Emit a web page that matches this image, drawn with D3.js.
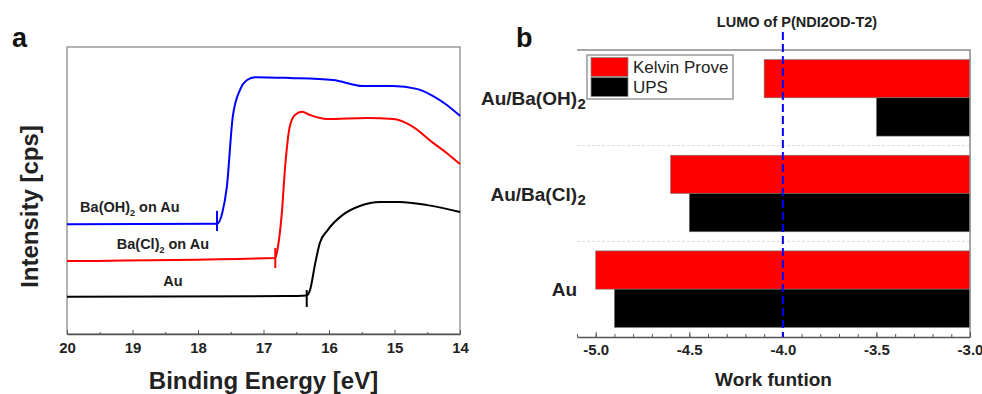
<!DOCTYPE html>
<html lang="en">
<head>
    <meta charset="UTF-8">
    <title>UPS cutoff and work function</title>
    <script src="https://d3js.org/d3.v7.min.js"></script>
    <style>
        body {
            background-color: #ffffff;
            margin: 0;
            padding: 0;
            font-family: Arial, "Liberation Sans", sans-serif;
        }
        svg text {
            font-family: Arial, "Liberation Sans", sans-serif;
        }
    </style>
</head>
<body>
    <svg id="chart"></svg>

    <script>
        // panel a: secondary electron cutoff spectra (binding energy, intensity a.u.)
        const ohEnergy    = [20, 17.71, 17.63, 17.56, 17.47, 17.36, 17.25, 17.13, 16.6, 15.94, 15.48, 15.02, 14.66, 14.41, 14.2, 14.0];
        const ohIntensity = [38.2, 38.4, 42.2, 51.2, 75.6, 85.0, 88.5, 89.5, 89.2, 88.5, 86.4, 86.4, 85.4, 82.9, 79.8, 76.0];

        const clEnergy    = [20, 16.82, 16.78, 16.72, 16.67, 16.60, 16.52, 16.41, 16.29, 16.03, 15.42, 15.02, 14.76, 14.41, 14.2, 14.0];
        const clIntensity = [25.4, 26.5, 30.3, 42.2, 58.2, 72.1, 76.3, 77.4, 76.3, 74.9, 75.3, 74.9, 72.8, 66.6, 63.0, 59.2];

        const auEnergy    = [20, 16.64, 16.34, 16.29, 16.21, 16.14, 16.02, 15.79, 15.53, 15.22, 14.92, 14.5, 14.0];
        const auIntensity = [13.0, 13.2, 13.4, 15.3, 24.7, 31.7, 36.2, 41.5, 44.6, 46.0, 46.0, 44.9, 42.5];

        const onsetEnergy = [17.71, 16.82, 16.34];
        const onsetLow    = [35.9, 23.0, 9.4];
        const onsetHigh   = [42.9, 30.0, 15.3];

        const energyTicks = [20, 19, 18, 17, 16, 15, 14];

        // panel b: work function bars
        const categories = ["Au/Ba(OH)", "Au/Ba(Cl)", "Au"];
        const categorySub = ["2", "2", ""];
        const seriesNames = ["Kelvin Prove", "UPS"];
        const kelvinValues = [-4.1, -4.6, -5.0];
        const upsValues = [-3.5, -4.5, -4.9];
        const lumoLevel = -4.0;
        const workTicks = [-5.0, -4.5, -4.0, -3.5, -3.0];

        const width = 982;
        const height = 394;

        const svg = d3.select("#chart")
            .attr("width", width)
            .attr("height", height);

        // ---------- panel a ----------
        const ax = { left: 67, right: 460, top: 47, bottom: 334 };

        const xE = d3.scaleLinear().domain([20, 14]).range([ax.left, ax.right]);
        const yI = d3.scaleLinear().domain([0, 100]).range([ax.bottom, ax.top]);

        svg.append("rect")
            .attr("x", ax.left)
            .attr("y", ax.top)
            .attr("width", ax.right - ax.left)
            .attr("height", ax.bottom - ax.top)
            .attr("fill", "none")
            .attr("stroke", "#9a9a9a")
            .attr("stroke-width", 1.5);

        const minorE = d3.range(19.5, 14, -1);
        svg.append("g")
            .attr("transform", `translate(0,${ax.bottom})`)
            .call(d3.axisBottom(xE).tickValues(minorE).tickSize(-2).tickFormat(""))
            .call(g => g.select(".domain").remove())
            .call(g => g.selectAll("line").attr("stroke", "#555"));

        svg.append("g")
            .attr("transform", `translate(0,${ax.bottom})`)
            .call(d3.axisBottom(xE).tickValues(energyTicks).tickSize(-4).tickSizeOuter(0).tickPadding(8).tickFormat(d3.format("d")))
            .call(g => g.select(".domain").attr("stroke", "#555").attr("stroke-width", 1.5))
            .call(g => g.selectAll("line").attr("stroke", "#555"))
            .call(g => g.selectAll("text")
                .attr("fill", "#222")
                .attr("font-size", "15px")
                .attr("font-weight", "bold"));

        const spectra = [
            { e: ohEnergy, i: ohIntensity, color: "#0000ff" },
            { e: clEnergy, i: clIntensity, color: "#ff0000" },
            { e: auEnergy, i: auIntensity, color: "#000000" }
        ];

        const line = d3.line()
            .x(d => xE(d[0]))
            .y(d => yI(d[1]))
            .curve(d3.curveMonotoneX);

        spectra.forEach((s, k) => {
            svg.append("path")
                .datum(d3.zip(s.e, s.i))
                .attr("fill", "none")
                .attr("stroke", s.color)
                .attr("stroke-width", 2)
                .attr("d", line);

            svg.append("line")
                .attr("x1", xE(onsetEnergy[k]))
                .attr("x2", xE(onsetEnergy[k]))
                .attr("y1", yI(onsetLow[k]))
                .attr("y2", yI(onsetHigh[k]))
                .attr("stroke", s.color)
                .attr("stroke-width", 2);
        });

        // spectrum labels
        const specLabels = [
            { main: "Ba(OH)", sub: "2", tail: " on Au", e: 19.80, i: 42.5 },
            { main: "Ba(Cl)", sub: "2", tail: " on Au", e: 19.24, i: 29.6 },
            { main: "Au", sub: "", tail: "", e: 18.53, i: 16.7 }
        ];
        specLabels.forEach(l => {
            const t = svg.append("text")
                .attr("x", xE(l.e))
                .attr("y", yI(l.i))
                .attr("font-size", "14.5px")
                .attr("font-weight", "bold")
                .attr("fill", "#222");
            t.append("tspan").text(l.main);
            if (l.sub) {
                t.append("tspan").attr("font-size", "9px").attr("dy", 4).text(l.sub);
                t.append("tspan").attr("dy", -4).text(l.tail);
            }
        });

        svg.append("text")
            .attr("x", (ax.left + ax.right) / 2)
            .attr("y", 389)
            .attr("text-anchor", "middle")
            .attr("font-size", "24px")
            .attr("font-weight", "bold")
            .attr("fill", "#222")
            .text("Binding Energy [eV]");

        svg.append("text")
            .attr("transform", `translate(38,${(ax.top + ax.bottom) / 2 + 16}) rotate(-90)`)
            .attr("text-anchor", "middle")
            .attr("font-size", "24px")
            .attr("font-weight", "bold")
            .attr("fill", "#222")
            .text("Intensity [cps]");

        svg.append("text")
            .attr("x", 12)
            .attr("y", 47)
            .attr("font-size", "27px")
            .attr("font-weight", "bold")
            .attr("fill", "#111")
            .text("a");

        // ---------- panel b ----------
        const bx = { left: 577, right: 970, top: 50, bottom: 337 };

        const xW = d3.scaleLinear().domain([-5.1, -3.0]).range([bx.left, bx.right]);
        const yC = d3.scaleBand()
            .domain(categories)
            .range([bx.top, bx.bottom])
            .paddingInner(0.2)
            .paddingOuter(0.1);
        const ySeries = d3.scaleBand()
            .domain(seriesNames)
            .range([0, yC.bandwidth()]);
        const color = d3.scaleOrdinal().domain(seriesNames).range(["#ff0000", "#000000"]);

        // separators between categories
        const seps = categories.slice(1).map(c => yC(c) - yC.step() * yC.paddingInner() / 2);
        svg.selectAll(".sep")
            .data(seps)
            .enter()
            .append("line")
            .attr("class", "sep")
            .attr("x1", bx.left)
            .attr("x2", bx.right)
            .attr("y1", d => d)
            .attr("y2", d => d)
            .attr("stroke", "#d8d8d8")
            .attr("stroke-dasharray", "3,2");

        const barData = [];
        categories.forEach((c, k) => {
            barData.push({ cat: c, series: "Kelvin Prove", value: kelvinValues[k] });
            barData.push({ cat: c, series: "UPS", value: upsValues[k] });
        });

        svg.selectAll(".bar")
            .data(barData)
            .enter()
            .append("rect")
            .attr("class", "bar")
            .attr("x", d => xW(d.value))
            .attr("y", d => yC(d.cat) + ySeries(d.series))
            .attr("width", d => xW(-3.0) - xW(d.value))
            .attr("height", ySeries.bandwidth())
            .attr("fill", d => color(d.series))
            .attr("stroke", "#777")
            .attr("stroke-width", 0.6);

        // frame: top and right
        svg.append("path")
            .attr("d", `M${bx.left},${bx.top}H${bx.right}V${bx.bottom}`)
            .attr("fill", "none")
            .attr("stroke", "#8a8a8a")
            .attr("stroke-width", 1.5);

        const minorW = d3.range(-5.1, -2.99, 0.1).map(v => +v.toFixed(1));
        svg.append("g")
            .attr("transform", `translate(0,${bx.bottom})`)
            .call(d3.axisBottom(xW).tickValues(minorW).tickSize(-3).tickFormat(""))
            .call(g => g.select(".domain").remove())
            .call(g => g.selectAll("line").attr("stroke", "#555"));

        svg.append("g")
            .attr("transform", `translate(0,${bx.bottom})`)
            .call(d3.axisBottom(xW).tickValues(workTicks).tickSize(-5).tickSizeOuter(0).tickPadding(7).tickFormat(d3.format(".1f")))
            .call(g => g.select(".domain").attr("stroke", "#555").attr("stroke-width", 1.5))
            .call(g => g.selectAll("line").attr("stroke", "#555"))
            .call(g => g.selectAll("text")
                .attr("fill", "#222")
                .attr("font-size", "15px")
                .attr("font-weight", "bold")
                .text(d => d3.format(".1f")(d).replace("−", "-")));

        // category labels
        categories.forEach((c, k) => {
            const cy = yC(c) + yC.bandwidth() / 2 + 7;
            svg.append("text")
                .attr("x", bx.left)
                .attr("y", cy)
                .attr("text-anchor", "end")
                .attr("font-size", "19px")
                .attr("font-weight", "bold")
                .attr("fill", "#222")
                .text(c);
            if (categorySub[k]) {
                svg.append("text")
                    .attr("x", bx.left + 0.5)
                    .attr("y", cy + 4)
                    .attr("font-size", "15px")
                    .attr("font-weight", "bold")
                    .attr("fill", "#222")
                    .text(categorySub[k]);
            }
        });

        // LUMO line
        svg.append("line")
            .attr("x1", xW(lumoLevel))
            .attr("x2", xW(lumoLevel))
            .attr("y1", 32)
            .attr("y2", bx.bottom)
            .attr("stroke", "#0000ff")
            .attr("stroke-width", 2)
            .attr("stroke-dasharray", "8,4");

        svg.append("text")
            .attr("x", 797)
            .attr("y", 27)
            .attr("text-anchor", "middle")
            .attr("font-size", "14.5px")
            .attr("font-weight", "bold")
            .attr("fill", "#222")
            .text("LUMO of P(NDI2OD-T2)");

        // legend
        const legend = svg.append("g").attr("transform", "translate(587,55)");
        legend.append("rect")
            .attr("width", 146)
            .attr("height", 44)
            .attr("fill", "#fff")
            .attr("stroke", "#999")
            .attr("stroke-width", 1.5);
        seriesNames.forEach((s, k) => {
            legend.append("rect")
                .attr("x", 4)
                .attr("y", 2.5 + k * 20)
                .attr("width", 37)
                .attr("height", 19)
                .attr("fill", color(s))
                .attr("stroke", "#888")
                .attr("stroke-width", 0.8);
            legend.append("text")
                .attr("x", 46)
                .attr("y", 18 + k * 20)
                .attr("font-size", "17px")
                .attr("fill", "#222")
                .text(s);
        });

        svg.append("text")
            .attr("x", 516)
            .attr("y", 47)
            .attr("font-size", "27px")
            .attr("font-weight", "bold")
            .attr("fill", "#111")
            .text("b");

        svg.append("text")
            .attr("x", (bx.left + bx.right) / 2)
            .attr("y", 386)
            .attr("text-anchor", "middle")
            .attr("font-size", "19px")
            .attr("font-weight", "bold")
            .attr("fill", "#222")
            .text("Work funtion");
    </script>
</body>
</html>
